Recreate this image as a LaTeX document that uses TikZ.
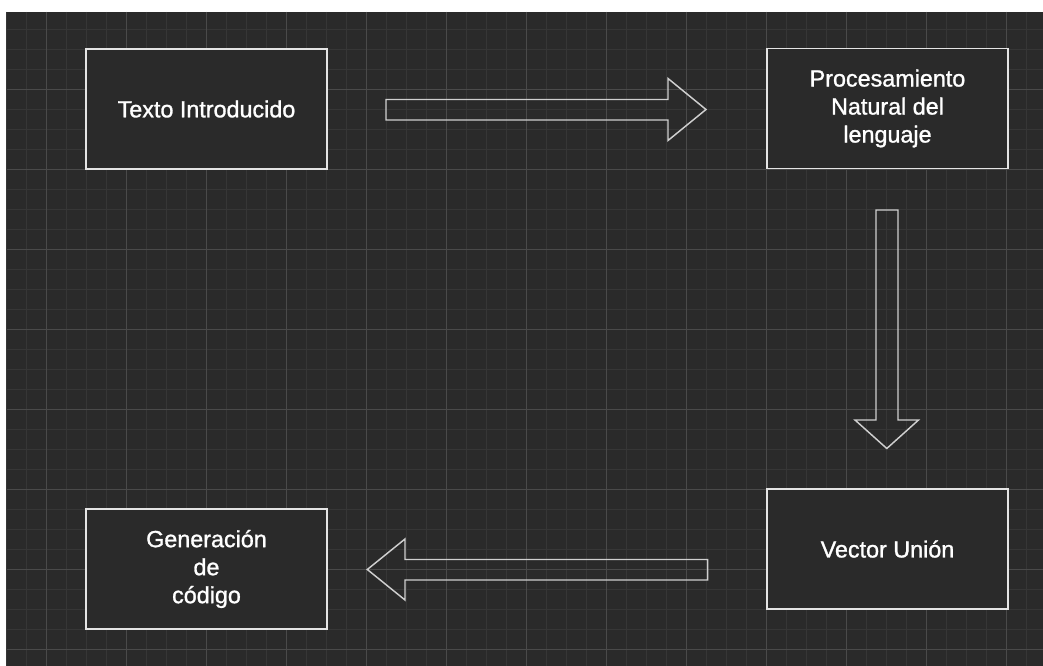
\documentclass[tikz,border=0pt]{standalone}
\usepackage{fontspec}
\setmainfont{Liberation Sans}
\newfontfamily\stagefont[FakeBold=1.2]{Liberation Sans}
\usetikzlibrary{positioning}
\definecolor{canvas}{HTML}{2A2A2A}
\definecolor{gridminor}{HTML}{363636}
\definecolor{gridmajor}{HTML}{4A4A4A}
\definecolor{edge}{HTML}{E4E4E4}
\definecolor{arrowline}{HTML}{CFCFCF}
\tikzset{
  stage/.style={draw=edge, line width=1.1pt, fill=canvas, text=white,
    minimum width=180.75pt, minimum height=90pt, align=center, inner sep=0pt,
    font=\stagefont\fontsize{17.5}{21}\selectfont},
  blockarrow/.style={draw=arrowline, line width=1.1pt, line join=miter},
  minorline/.style={gridminor, line width=0.75pt},
  majorline/.style={gridmajor, line width=0.75pt}
}
\begin{document}
\begin{tikzpicture}[x=0.75pt,y=-0.75pt]
  \useasboundingbox (0,0) rectangle (1043,666);
  \fill[white] (0,0) rectangle (1043,666);
  \fill[canvas] (6.7,12) rectangle (1043,666);
  % grid
  \foreach \i in {0,...,51}
    \draw[minorline] ({6.7+20*\i},12) -- ({6.7+20*\i},666);
  \foreach \j in {1,...,32}
    \draw[minorline] (6.7,{9.3+20*\j}) -- (1043,{9.3+20*\j});
  \foreach \i in {0,...,12}
    \draw[majorline] ({46.7+80*\i},12) -- ({46.7+80*\i},666);
  \foreach \j in {0,...,7}
    \draw[majorline] (6.7,{89.3+80*\j}) -- (1043,{89.3+80*\j});

  % stages
  \node[stage] (texto)  at (206.5,109)   {Texto Introducido};
  \node[stage] (pln)    at (887.5,108.5) {Procesamiento\\Natural del\\lenguaje};
  \node[stage] (vector) at (887.5,549)   {Vector Unión};
  \node[stage] (codigo) at (206.5,569)   {Generación\\de\\código};

  % block arrows
  \draw[blockarrow] (386,99.5) -- (668,99.5) -- (668,78.5) -- (706,109.5)
    -- (668,140.5) -- (668,120) -- (386,120) -- cycle;
  \draw[blockarrow] (876,210) -- (898,210) -- (898,420) -- (918.5,420)
    -- (886.8,448.5) -- (855,420) -- (876,420) -- cycle;
  \draw[blockarrow] (707.7,559.5) -- (405,559.5) -- (405,539) -- (367.3,569.5)
    -- (405,600) -- (405,580) -- (707.7,580) -- cycle;
\end{tikzpicture}
\end{document}
